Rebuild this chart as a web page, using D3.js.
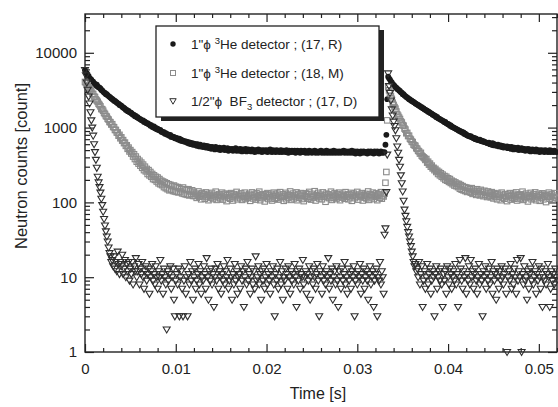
<!DOCTYPE html>
<html>
<head>
<meta charset="utf-8">
<script src="https://cdn.jsdelivr.net/npm/d3@7"></script>
<style>
  body { margin: 0; background: #fff; }
  svg { display: block; }
  text { font-family: "Liberation Sans", Arial, Helvetica, sans-serif; fill: #222; }
</style>
</head>
<body>
<svg id="chart" width="558" height="407"></svg>
<script>
// Neutron counts per 0.1 ms time bin after each beam pulse (30 Hz: pulses at 0 and ~33.3 ms)
const binWidth = 0.0001;      // s per bin
const pulse2Start = 0.0330;   // first bin of the second segment
const xTicks = [0, 0.01, 0.02, 0.03, 0.04, 0.05];
const xTickLabels = ["0", "0.01", "0.02", "0.03", "0.04", "0.05"];
const yTicks = [1, 10, 100, 1000, 10000];
const yTickLabels = ["1", "10", "100", "1000", "10000"];
const legendPre = ['1"\u03D5 ', '1"\u03D5 ', '1/2"\u03D5  BF'];
const legendScript = ['3', '3', '3'];
const legendPost = ['He detector ; (17, R)', 'He detector ; (18, M)', ' detector ; (17, D)'];

// 1"phi 3He detector (17, R)
const countsR1 = [
  5820, 5430, 5350, 4960, 4910, 4580, 4470, 4380, 4080, 4110,
  3900, 3840, 3680, 3740, 3520, 3480, 3410, 3330, 3180, 3150,
  3030, 2940, 2910, 2790, 2810, 2700, 2640, 2580, 2530, 2440,
  2420, 2360, 2290, 2270, 2210, 2170, 2110, 2090, 2010, 1990,
  1970, 1900, 1860, 1830, 1790, 1720, 1730, 1660, 1670, 1600,
  1590, 1570, 1520, 1490, 1480, 1420, 1430, 1370, 1380, 1330,
  1310, 1300, 1260, 1240, 1250, 1190, 1200, 1160, 1140, 1150,
  1110, 1100, 1060, 1080, 1030, 1010, 1040, 980, 990, 950,
  970, 930, 920, 930, 880, 880, 860, 870, 830, 840,
  810, 820, 790, 780, 800, 750, 760, 740, 750, 720,
  720, 730, 700, 690, 710, 670, 690, 660, 670, 650,
  660, 640, 650, 620, 640, 610, 630, 600, 620, 590,
  610, 590, 600, 570, 600, 580, 560, 590, 560, 570,
  550, 580, 560, 540, 570, 540, 560, 530, 550, 520,
  550, 530, 540, 510, 550, 520, 530, 510, 540, 500,
  530, 520, 510, 540, 500, 520, 510, 530, 490, 520,
  500, 510, 520, 490, 510, 500, 530, 490, 500, 510,
  490, 520, 500, 480, 510, 500, 490, 520, 480, 500,
  510, 490, 500, 480, 510, 490, 500, 470, 500, 490,
  480, 510, 490, 480, 500, 470, 490, 500, 480, 490,
  500, 470, 490, 480, 510, 480, 470, 500, 480, 490,
  470, 500, 480, 490, 470, 490, 500, 470, 480, 490,
  480, 470, 500, 480, 460, 490, 480, 470, 490, 480,
  470, 490, 460, 480, 490, 470, 480, 460, 490, 470,
  480, 470, 490, 460, 470, 480, 460, 490, 470, 480,
  460, 480, 470, 490, 460, 480, 470, 460, 480, 470,
  490, 460, 470, 480, 460, 470, 490, 460, 480, 470,
  460, 480, 470, 460, 490, 470, 460, 480, 470, 460,
  480, 470, 460, 480, 470, 490, 460, 470, 480, 460,
  470, 480, 460, 470, 490, 460, 470, 480, 450, 470,
  480, 460, 470, 450, 480, 470, 460, 480, 470, 460,
  470, 450, 480, 460, 470, 480, 460, 470, 450, 480,
  460, 470, 480, 460, 450, 470, 480, 460, 470, 460
];
const countsR2 = [
  470, 590, 800, 2400,
  4800, 4550, 4380, 4150, 4020, 3810, 3720, 3610, 3470, 3420,
  3290, 3250, 3130, 3090, 2960, 2940, 2800, 2790, 2680, 2640,
  2560, 2530, 2460, 2400, 2380, 2300, 2290, 2230, 2200, 2160,
  2100, 2080, 2030, 2010, 1960, 1940, 1880, 1870, 1820, 1810,
  1750, 1740, 1690, 1680, 1630, 1620, 1580, 1550, 1540, 1490,
  1480, 1440, 1430, 1380, 1390, 1330, 1320, 1300, 1270, 1260,
  1230, 1220, 1180, 1190, 1140, 1130, 1110, 1100, 1060, 1070,
  1030, 1020, 1000, 990, 970, 960, 940, 930, 910, 900,
  880, 880, 850, 860, 820, 830, 800, 790, 780, 770,
  760, 770, 740, 740, 720, 730, 700, 710, 690, 680,
  680, 690, 660, 670, 650, 660, 640, 640, 630, 620,
  620, 630, 600, 610, 590, 620, 580, 600, 590, 570,
  580, 590, 560, 570, 580, 550, 570, 540, 560, 550,
  540, 560, 530, 550, 540, 520, 550, 530, 510, 540,
  520, 530, 510, 540, 500, 520, 510, 530, 500, 510,
  520, 490, 510, 500, 520, 490, 510, 480, 500, 510,
  490, 500, 480, 510, 490, 480, 500, 470, 490, 500,
  480, 490, 470, 500, 480, 490, 470, 480, 500, 470,
  490, 480, 470, 490, 480, 470
];

// 1"phi 3He detector (18, M)
const countsM1 = [
  4080, 3960, 3700, 3690, 3450, 3310, 3190, 3040, 2840, 2810,
  2600, 2560, 2380, 2300, 2210, 2080, 2010, 1920, 1770, 1760,
  1680, 1570, 1520, 1430, 1400, 1310, 1280, 1190, 1180, 1100,
  1110, 1020, 1010, 930, 930, 860, 860, 780, 800, 720,
  740, 670, 680, 620, 630, 570, 580, 520, 540, 480,
  500, 450, 470, 410, 440, 380, 410, 350, 380, 330,
  360, 310, 340, 290, 320, 270, 300, 260, 280, 240,
  270, 230, 255, 220, 240, 205, 230, 200, 220, 190,
  215, 180, 205, 175, 195, 170, 190, 160, 185, 155,
  180, 150, 175, 145, 172, 148, 165, 142, 168, 140,
  162, 138, 160, 136, 155, 140, 150, 132, 158, 130,
  150, 128, 146, 126, 150, 124, 140, 130, 145, 122,
  138, 122, 131, 115, 127, 140, 119, 124, 110, 133,
  121, 128, 112, 136, 118, 125, 107, 130, 122, 116,
  134, 111, 126, 120, 139, 108, 124, 117, 129, 113,
  122, 135, 109, 127, 118, 131, 104, 125, 116, 128,
  112, 133, 120, 106, 129, 117, 124, 138, 110, 121,
  127, 114, 132, 108, 123, 119, 135, 111, 126, 115,
  120, 130, 105, 124, 136, 113, 118, 127, 109, 132,
  116, 122, 139, 107, 125, 114, 129, 120, 103, 128,
  118, 133, 111, 124, 117, 130, 106, 121, 135, 112,
  126, 115, 131, 109, 123, 137, 114, 119, 128, 105,
  122, 134, 110, 127, 116, 125, 140, 108, 120, 131,
  113, 124, 118, 136, 107, 129, 115, 122, 133, 111,
  126, 104, 121, 132, 117, 128, 112, 138, 119, 109,
  130, 116, 123, 141, 106, 125, 118, 134, 113, 121,
  127, 110, 136, 119, 124, 102, 131, 117, 128, 114,
  122, 139, 108, 126, 115, 133, 120, 111, 129, 118,
  135, 107, 124, 116, 130, 121, 112, 137, 119, 125,
  110, 128, 117, 134, 105, 123, 131, 114, 126, 120,
  138, 109, 127, 118, 122, 133, 106, 125, 116, 130,
  113, 121, 140, 108, 128, 117, 124, 135, 111, 126,
  119, 132, 107, 123, 129, 115, 137, 112, 124, 120
];
const countsM2 = [
  131, 183, 255, 1250,
  3500, 3150, 2920, 2640, 2420, 2150, 2010, 1880, 1790, 1640,
  1500, 1440, 1360, 1300, 1210, 1170, 1080, 1060, 970, 940,
  840, 850, 770, 780, 710, 690, 650, 640, 590, 580,
  570, 530, 520, 490, 480, 450, 460, 420, 410, 400,
  390, 370, 380, 340, 350, 320, 330, 300, 310, 285,
  290, 270, 280, 255, 265, 240, 255, 230, 245, 220,
  235, 210, 225, 200, 220, 195, 210, 188, 205, 182,
  195, 175, 190, 168, 185, 165, 178, 160, 176, 152,
  170, 148, 165, 145, 160, 142, 158, 138, 155, 140,
  150, 135, 155, 130, 148, 138, 142, 126, 150, 132,
  140, 124, 147, 128, 138, 121, 143, 126, 134, 118,
  140, 122, 131, 117, 137, 125, 113, 133, 120, 128,
  110, 131, 119, 126, 107, 135, 116, 123, 112, 129,
  118, 104, 127, 121, 133, 109, 124, 115, 130, 112,
  120, 136, 106, 125, 117, 128, 111, 122, 139, 108,
  126, 114, 131, 119, 103, 124, 117, 134, 110, 121,
  128, 113, 136, 107, 122, 118, 130, 105, 125, 116,
  132, 110, 121, 127, 101, 124, 118, 135, 112, 120,
  129, 107, 123, 117, 133, 114
];

// 1/2"phi BF3 detector (17, D)
const countsD1 = [
  5900, 5000, 4000, 3200, 2600, 2100, 1600, 1250, 1000, 780,
  600, 470, 370, 290, 220, 185, 160, 135, 112, 92,
  75, 60, 49, 41, 35, 30, 25, 21, 19, 16,
  17, 14, 19, 13, 16, 12, 22, 15, 11, 16,
  14, 20, 11, 13, 17, 10, 15, 12, 16, 9,
  13, 11, 16, 8, 14, 12, 18, 10, 12, 15,
  8, 13, 11, 16, 10, 7, 12, 14, 9, 11,
  13, 6, 10, 12, 15, 9, 11, 8, 14, 10,
  7, 12, 10, 17, 9, 11, 6, 13, 10, 8,
  2, 12, 9, 11, 14, 7, 10, 13, 5, 3,
  9, 11, 8, 13, 3, 10, 12, 7, 3, 9,
  14, 6, 10, 3, 11, 8, 16, 9, 12, 5,
  10, 13, 7, 9, 11, 15, 8, 12, 6, 10,
  9, 14, 11, 7, 18, 10, 5, 12, 9, 13,
  8, 11, 4, 10, 13, 9, 15, 7, 12, 10,
  6, 11, 9, 14, 8, 12, 10, 17, 7, 9,
  13, 10, 5, 11, 8, 15, 9, 12, 6, 10,
  11, 7, 14, 9, 12, 4, 10, 13, 8, 16,
  9, 11, 6, 10, 13, 8, 12, 7, 19, 9,
  10, 14, 8, 11, 5, 12, 9, 13, 7, 10,
  15, 8, 11, 9, 6, 12, 10, 14, 8, 3,
  11, 9, 13, 7, 10, 16, 8, 12, 5, 10,
  9, 13, 11, 7, 14, 10, 6, 12, 9, 11,
  8, 15, 10, 4, 12, 9, 13, 7, 11, 10,
  17, 8, 10, 12, 6, 11, 9, 14, 5, 10,
  12, 8, 13, 10, 7, 11, 15, 9, 3, 12,
  10, 6, 14, 9, 11, 8, 12, 10, 18, 7,
  11, 9, 13, 5, 10, 12, 8, 14, 9, 4,
  12, 10, 7, 13, 9, 11, 16, 8, 10, 6,
  13, 9, 11, 7, 12, 10, 14, 3, 9, 11,
  8, 12, 10, 15, 6, 11, 9, 13, 7, 10,
  12, 9, 5, 11, 14, 8, 10, 12, 4, 9,
  11, 13, 3, 10, 9, 16, 8, 12, 10, 6
];
const countsD2 = [
  37, 45, 137, 435,
  5300, 3600, 2900, 2300, 1750, 1450, 1200, 1050, 920, 720,
  560, 460, 370, 300, 230, 180, 140, 105, 80, 66,
  56, 47, 40, 35, 30, 26, 22, 19, 16, 14,
  15, 12,
  13, 10, 16, 8, 11, 14, 4, 9, 12, 7,
  10, 15, 8, 11, 13, 6, 9, 12, 10, 3,
  11, 14, 7, 10, 12, 9, 13, 8, 4, 11,
  9, 12, 6, 14, 10, 8, 13, 11, 7, 10,
  12, 9, 15, 8, 11, 4, 10, 17, 13, 9,
  7, 12, 10, 18, 6, 11, 9, 14, 8, 17,
  10, 12, 7, 11, 13, 9, 6, 10, 15, 8,
  11, 9, 3, 12, 10, 14, 7, 11, 9, 13,
  8, 10, 16, 6, 12, 9, 11, 5, 13, 10,
  7, 12, 9, 14, 10, 8, 11, 13, 6, 1,
  10, 12, 9, 15, 7, 11, 8, 13, 10, 6,
  17, 9, 12, 10, 18, 1, 11, 8, 14, 9,
  10, 5, 12, 7, 11, 13, 9, 16, 8, 10,
  12, 6, 11, 9, 14, 10, 7, 13, 4, 10,
  9, 12, 8, 11, 15, 10, 4, 7, 12, 9,
  11, 8, 13, 10
];

const svg = d3.select("#chart");
const plot = { left: 85, right: 557, top: 14, bottom: 352 };
const x = d3.scaleLinear().domain([0, 0.052]).range([plot.left, plot.right]);
const y = d3.scaleLog().domain([1, 33000]).range([plot.bottom, plot.top]);

const ink = "#222";
const colR = "#1a1a1a", colM = "#8c8c8c", colD = "#2e2e2e";

// tick positions
const xMinor = d3.range(0, 0.0521, 0.002).filter(v => Math.abs(v / 0.01 - Math.round(v / 0.01)) > 1e-6);
const yMinor = [];
yTicks.forEach(d => { for (let k = 2; k <= 9; k++) { const v = d * k; if (v <= 33000) yMinor.push(v); } });

function styleAxis(g, withLabels) {
  g.select(".domain").remove();
  g.attr("font-family", null).attr("font-size", null);
  g.selectAll(".tick line").attr("stroke", ink).attr("stroke-width", 1.2);
  if (withLabels) g.selectAll(".tick text").attr("font-size", 15).attr("fill", ink);
}

// bottom
svg.append("g").attr("transform", `translate(0,${plot.bottom})`)
  .call(d3.axisBottom(x).tickValues(xTicks).tickSize(-8).tickPadding(11).tickFormat((d, i) => xTickLabels[i]))
  .call(g => styleAxis(g, true));
svg.append("g").attr("transform", `translate(0,${plot.bottom})`)
  .call(d3.axisBottom(x).tickValues(xMinor).tickSize(-4).tickFormat(""))
  .call(g => styleAxis(g, false));
// top
svg.append("g").attr("transform", `translate(0,${plot.top})`)
  .call(d3.axisTop(x).tickValues(xTicks).tickSize(-8).tickFormat(""))
  .call(g => styleAxis(g, false));
svg.append("g").attr("transform", `translate(0,${plot.top})`)
  .call(d3.axisTop(x).tickValues(xMinor).tickSize(-4).tickFormat(""))
  .call(g => styleAxis(g, false));
// left
svg.append("g").attr("transform", `translate(${plot.left},0)`)
  .call(d3.axisLeft(y).tickValues(yTicks).tickSize(-9).tickPadding(8).tickFormat((d, i) => yTickLabels[i]))
  .call(g => styleAxis(g, true));
svg.append("g").attr("transform", `translate(${plot.left},0)`)
  .call(d3.axisLeft(y).tickValues(yMinor).tickSize(-5).tickFormat(""))
  .call(g => styleAxis(g, false));
// right
svg.append("g").attr("transform", `translate(${plot.right},0)`)
  .call(d3.axisRight(y).tickValues(yTicks).tickSize(-9).tickFormat(""))
  .call(g => styleAxis(g, false));
svg.append("g").attr("transform", `translate(${plot.right},0)`)
  .call(d3.axisRight(y).tickValues(yMinor).tickSize(-5).tickFormat(""))
  .call(g => styleAxis(g, false));

// frame
svg.append("rect")
  .attr("x", plot.left).attr("y", plot.top)
  .attr("width", plot.right - plot.left).attr("height", plot.bottom - plot.top)
  .attr("fill", "none").attr("stroke", ink).attr("stroke-width", 1.4);

// axis titles
svg.append("text").attr("x", 318).attr("y", 399).attr("text-anchor", "middle")
  .attr("font-size", 16).text("Time [s]");
svg.append("text").attr("transform", "translate(27,166) rotate(-90)").attr("text-anchor", "middle")
  .attr("font-size", 16.5).text("Neutron counts [count]");

// series points
function toPoints(seg1, seg2) {
  return seg1.map((v, j) => ({ t: j * binWidth, v }))
    .concat(seg2.map((v, j) => ({ t: pulse2Start + j * binWidth, v })));
}
const ptsR = toPoints(countsR1, countsR2);
const ptsM = toPoints(countsM1, countsM2);
const ptsD = toPoints(countsD1, countsD2);

const triPath = "M-3.5,-2.5L3.5,-2.5L0,3.5Z";

svg.append("g").selectAll("circle").data(ptsR).join("circle")
  .attr("cx", d => x(d.t)).attr("cy", d => y(d.v)).attr("r", 2.9).attr("fill", colR);

svg.append("g").selectAll("rect").data(ptsM).join("rect")
  .attr("x", d => x(d.t) - 2.75).attr("y", d => y(d.v) - 2.75)
  .attr("width", 5.5).attr("height", 5.5)
  .attr("fill", "none").attr("stroke", colM).attr("stroke-width", 1.1);

svg.append("g").selectAll("path").data(ptsD).join("path")
  .attr("transform", d => `translate(${x(d.t)},${y(d.v)})`)
  .attr("d", triPath).attr("fill", "none").attr("stroke", colD).attr("stroke-width", 1.1);

// legend
const lg = svg.append("g");
lg.append("rect").attr("x", 161).attr("y", 30).attr("width", 223).attr("height", 91).attr("fill", "#222");
lg.append("rect").attr("x", 156).attr("y", 26).attr("width", 223).attr("height", 91)
  .attr("fill", "#fff").attr("stroke", ink).attr("stroke-width", 1.3);

const rowY = [44, 73, 101];
lg.append("circle").attr("cx", 173).attr("cy", rowY[0]).attr("r", 2.7).attr("fill", colR);
lg.append("rect").attr("x", 170.5).attr("y", rowY[1] - 2.5).attr("width", 5).attr("height", 5)
  .attr("fill", "none").attr("stroke", colM).attr("stroke-width", 1);
lg.append("path").attr("transform", `translate(173,${rowY[2]})`).attr("d", "M-3.2,-2.3L3.2,-2.3L0,3.2Z")
  .attr("fill", "none").attr("stroke", colD).attr("stroke-width", 1);

legendPre.forEach((pre, i) => {
  const t = lg.append("text").attr("x", 191).attr("y", rowY[i] + 5).attr("font-size", 13.5)
    .style("white-space", "pre");
  t.append("tspan").text(pre);
  const shift = i < 2 ? -5 : 3.5;
  t.append("tspan").attr("dy", shift).attr("font-size", 9.5).text(legendScript[i]);
  t.append("tspan").attr("dy", -shift).text(legendPost[i]);
});
</script>
</body>
</html>
